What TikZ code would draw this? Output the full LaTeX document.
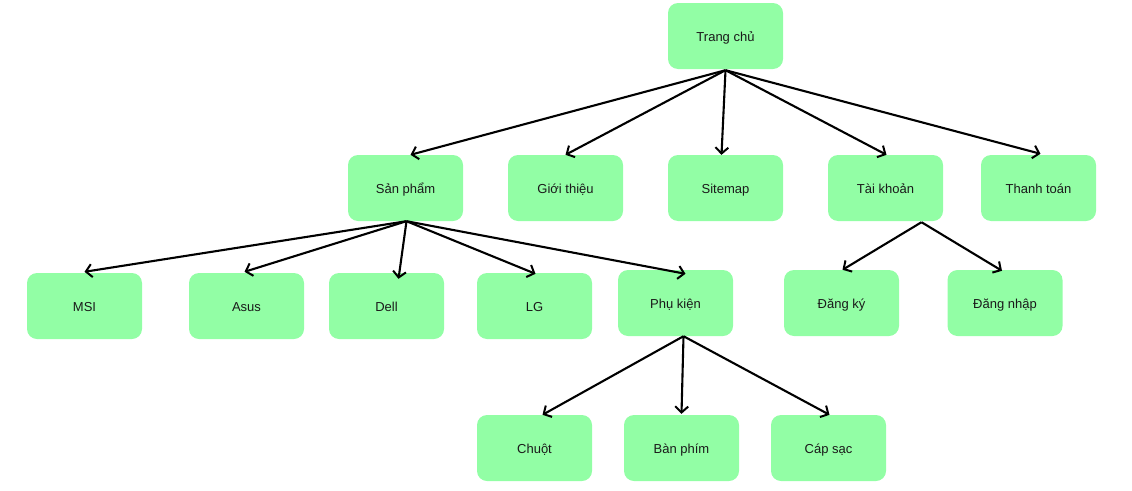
\documentclass[tikz,border=0pt]{standalone}
\usepackage{fontspec}
\setmainfont{Liberation Sans}
\usetikzlibrary{arrows.meta,calc}
\definecolor{boxgreen}{RGB}{146,254,165}
\definecolor{txt}{RGB}{26,26,26}
\tikzset{
  box/.style={fill=boxgreen, draw=none, rounded corners=10pt, minimum width=115pt, minimum height=66pt, inner sep=0pt, text height=12pt, text depth=1pt, text=txt, font=\fontsize{13}{15}\selectfont},
  link/.style={draw=black, line width=2.1pt, -{Straight Barb[length=6pt,width=13pt,line width=2pt]}}
}
\begin{document}
\begin{tikzpicture}[x=1pt,y=-1pt]
\useasboundingbox (0,0) rectangle (1132,490);
\node[box] (home) at (725.5,36) {Trang chủ};
\node[box] (sp) at (405.5,188) {Sản phẩm};
\node[box] (gt) at (565.5,188) {Giới thiệu};
\node[box] (sm) at (725.5,188) {Sitemap};
\node[box] (tk) at (885.5,188) {Tài khoản};
\node[box] (tt) at (1038.5,188) {Thanh toán};
\node[box] (msi) at (84.5,306) {MSI};
\node[box] (asus) at (246.5,306) {Asus};
\node[box] (dell) at (386.5,306) {Dell};
\node[box] (lg) at (534.5,306) {LG};
\node[box] (pk) at (675.5,303) {Phụ kiện};
\node[box] (dk) at (841.5,303) {Đăng ký};
\node[box] (dn) at (1005,303) {Đăng nhập};
\node[box] (chuot) at (534.5,448) {Chuột};
\node[box] (bp) at (681.5,448) {Bàn phím};
\node[box] (cs) at (828.5,448) {Cáp sạc};

\coordinate (homeS) at ($(home.south)+(0,1)$);
\draw[link] (homeS) -- ($(sp.north)+(5,0)$);
\draw[link] (homeS) -- ($(gt.north)+(0,0)$);
\draw[link] (homeS) -- ($(sm.north)+(-4,0)$);
\draw[link] (homeS) -- ($(tk.north)+(1,0)$);
\draw[link] (homeS) -- ($(tt.north)+(2,-1)$);

\coordinate (spS) at ($(sp.south)+(1,0)$);
\draw[link] (spS) -- ($(msi.north)+(0,-1)$);
\draw[link] (spS) -- ($(asus.north)+(-2,-1)$);
\draw[link] (spS) -- ($(dell.north)+(12,6)$);
\draw[link] (spS) -- ($(lg.north)+(1,1)$);
\draw[link] (spS) -- ($(pk.north)+(10,4)$);

\coordinate (tkS) at ($(tk.south)+(36,1)$);
\draw[link] (tkS) -- ($(dk.north)+(1,0)$);
\draw[link] (tkS) -- ($(dn.north)+(-3,1)$);

\coordinate (pkS) at ($(pk.south)+(8,0)$);
\draw[link] (pkS) -- ($(chuot.north)+(8,0)$);
\draw[link] (pkS) -- ($(bp.north)+(0,-1)$);
\draw[link] (pkS) -- ($(cs.north)+(1,0)$);
\end{tikzpicture}
\end{document}
